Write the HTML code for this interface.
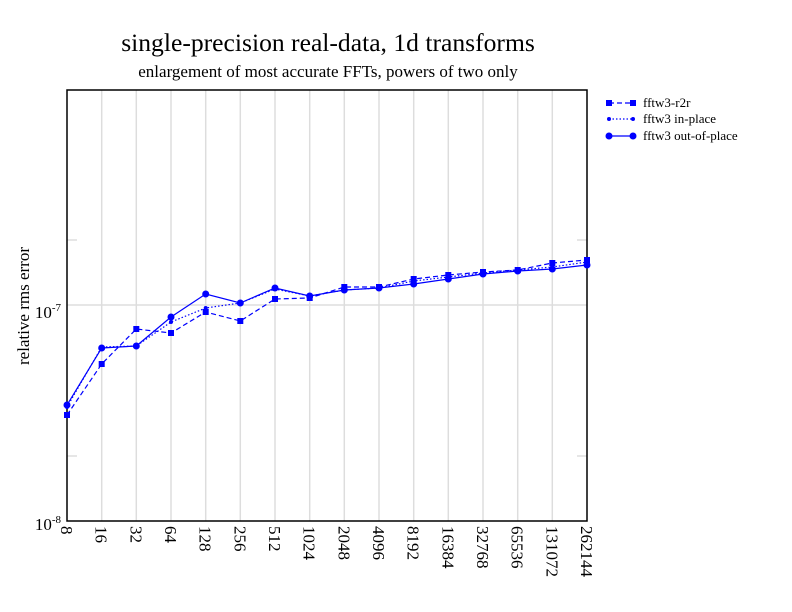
<!DOCTYPE html>
<html><head><meta charset="utf-8"><style>body{margin:0;background:#fff}svg{display:block}</style></head><body>
<svg width="792" height="612" xmlns="http://www.w3.org/2000/svg" font-family="Liberation Serif, serif">
<rect width="792" height="612" fill="#fff"/>
<text x="328" y="51" font-size="25.6" text-anchor="middle">single-precision real-data, 1d transforms</text>
<text x="328" y="77" font-size="17" text-anchor="middle">enlargement of most accurate FFTs, powers of two only</text>
<g stroke="#ddd" stroke-width="1.5">
<line x1="101.7" y1="90" x2="101.7" y2="521"/><line x1="136.3" y1="90" x2="136.3" y2="521"/><line x1="171" y1="90" x2="171" y2="521"/><line x1="205.7" y1="90" x2="205.7" y2="521"/><line x1="240.3" y1="90" x2="240.3" y2="521"/><line x1="275" y1="90" x2="275" y2="521"/><line x1="309.7" y1="90" x2="309.7" y2="521"/><line x1="344.3" y1="90" x2="344.3" y2="521"/><line x1="379" y1="90" x2="379" y2="521"/><line x1="413.7" y1="90" x2="413.7" y2="521"/><line x1="448.3" y1="90" x2="448.3" y2="521"/><line x1="483" y1="90" x2="483" y2="521"/><line x1="517.7" y1="90" x2="517.7" y2="521"/><line x1="552.3" y1="90" x2="552.3" y2="521"/>
<line x1="67" y1="305" x2="587" y2="305"/>
</g>
<g stroke="#ccc" stroke-width="1">
<line x1="67" y1="240" x2="77" y2="240"/><line x1="577" y1="240" x2="587" y2="240"/>
<line x1="67" y1="456" x2="77" y2="456"/><line x1="577" y1="456" x2="587" y2="456"/>
</g>
<rect x="67" y="90" width="520" height="431" fill="none" stroke="#000" stroke-width="1.5"/>
<text x="61" y="318" font-size="17" text-anchor="end">10<tspan font-size="11" dy="-7">-7</tspan></text>
<text x="61" y="530" font-size="17" text-anchor="end">10<tspan font-size="11" dy="-7">-8</tspan></text>
<text transform="translate(29,306) rotate(-90)" font-size="17" text-anchor="middle">relative rms error</text>
<g font-size="17">
<text transform="translate(61,526) rotate(90)">8</text>
<text transform="translate(95.7,526) rotate(90)">16</text>
<text transform="translate(130.3,526) rotate(90)">32</text>
<text transform="translate(165,526) rotate(90)">64</text>
<text transform="translate(199.7,526) rotate(90)">128</text>
<text transform="translate(234.3,526) rotate(90)">256</text>
<text transform="translate(269,526) rotate(90)">512</text>
<text transform="translate(303.7,526) rotate(90)">1024</text>
<text transform="translate(338.3,526) rotate(90)">2048</text>
<text transform="translate(373,526) rotate(90)">4096</text>
<text transform="translate(407.7,526) rotate(90)">8192</text>
<text transform="translate(442.3,526) rotate(90)">16384</text>
<text transform="translate(477,526) rotate(90)">32768</text>
<text transform="translate(511.7,526) rotate(90)">65536</text>
<text transform="translate(546.3,526) rotate(90)">131072</text>
<text transform="translate(581,526) rotate(90)">262144</text>
</g>
<g fill="none" stroke="#00f" stroke-width="1.2">
<polyline stroke-dasharray="5,3" points="67,415 101.7,364 136.3,329 171,333 205.7,312 240.3,321 275,299 309.7,298 344.3,287 379,287 413.7,279 448.3,275 483,272 517.7,270 552.3,263 587,260"/>
<polyline stroke-dasharray="1.5,2" points="67,407 101.7,347 136.3,346 171,322 205.7,308 240.3,303 275,289 309.7,296 344.3,290 379,288 413.7,281 448.3,277 483,273 517.7,270 552.3,267 587,262"/>
<polyline points="67,405 101.7,348 136.3,346 171,317 205.7,294 240.3,303 275,288 309.7,296 344.3,290 379,288 413.7,284 448.3,279 483,274 517.7,271 552.3,269 587,265"/>
</g>
<g fill="#00f">
<rect x="64" y="412" width="6" height="6"/><rect x="98.7" y="361" width="6" height="6"/><rect x="133.3" y="326" width="6" height="6"/><rect x="168" y="330" width="6" height="6"/><rect x="202.7" y="309" width="6" height="6"/><rect x="237.3" y="318" width="6" height="6"/><rect x="272" y="296" width="6" height="6"/><rect x="306.7" y="295" width="6" height="6"/><rect x="341.3" y="284" width="6" height="6"/><rect x="376" y="284" width="6" height="6"/><rect x="410.7" y="276" width="6" height="6"/><rect x="445.3" y="272" width="6" height="6"/><rect x="480" y="269" width="6" height="6"/><rect x="514.7" y="267" width="6" height="6"/><rect x="549.3" y="260" width="6" height="6"/><rect x="584" y="257" width="6" height="6"/>
<circle cx="67" cy="407" r="2"/><circle cx="101.7" cy="347" r="2"/><circle cx="136.3" cy="346" r="2"/><circle cx="171" cy="322" r="2"/><circle cx="205.7" cy="308" r="2"/><circle cx="240.3" cy="303" r="2"/><circle cx="275" cy="289" r="2"/><circle cx="309.7" cy="296" r="2"/><circle cx="344.3" cy="290" r="2"/><circle cx="379" cy="288" r="2"/><circle cx="413.7" cy="281" r="2"/><circle cx="448.3" cy="277" r="2"/><circle cx="483" cy="273" r="2"/><circle cx="517.7" cy="270" r="2"/><circle cx="552.3" cy="267" r="2"/><circle cx="587" cy="262" r="2"/>
<circle cx="67" cy="405" r="3.5"/><circle cx="101.7" cy="348" r="3.5"/><circle cx="136.3" cy="346" r="3.5"/><circle cx="171" cy="317" r="3.5"/><circle cx="205.7" cy="294" r="3.5"/><circle cx="240.3" cy="303" r="3.5"/><circle cx="275" cy="288" r="3.5"/><circle cx="309.7" cy="296" r="3.5"/><circle cx="344.3" cy="290" r="3.5"/><circle cx="379" cy="288" r="3.5"/><circle cx="413.7" cy="284" r="3.5"/><circle cx="448.3" cy="279" r="3.5"/><circle cx="483" cy="274" r="3.5"/><circle cx="517.7" cy="271" r="3.5"/><circle cx="552.3" cy="269" r="3.5"/><circle cx="587" cy="265" r="3.5"/>
</g>
<g stroke="#00f" stroke-width="1.2">
<line x1="609" y1="103" x2="633" y2="103" stroke-dasharray="5,3"/>
<line x1="609" y1="119" x2="633" y2="119" stroke-dasharray="1.5,2"/>
<line x1="609" y1="136" x2="633" y2="136"/>
</g>
<g fill="#00f">
<rect x="606" y="100" width="6" height="6"/><rect x="630" y="100" width="6" height="6"/>
<circle cx="609" cy="119" r="2"/><circle cx="633" cy="119" r="2"/>
<circle cx="609" cy="136" r="3.5"/><circle cx="633" cy="136" r="3.5"/>
</g>
<g font-size="13">
<text x="643" y="107">fftw3-r2r</text>
<text x="643" y="123">fftw3 in-place</text>
<text x="643" y="140">fftw3 out-of-place</text>
</g>
</svg>
</body></html>
